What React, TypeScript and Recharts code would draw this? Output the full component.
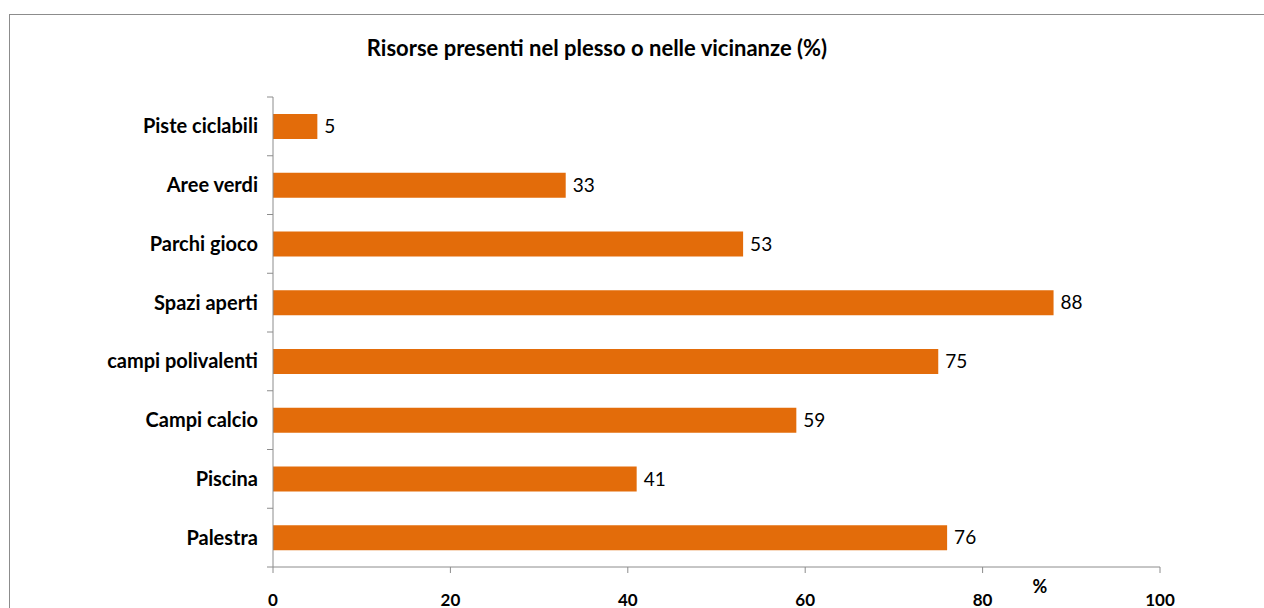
import { Bar, BarChart, XAxis, YAxis, LabelList } from "recharts"

const categories = [
  "Piste ciclabili",
  "Aree verdi",
  "Parchi gioco",
  "Spazi aperti",
  "campi polivalenti",
  "Campi calcio",
  "Piscina",
  "Palestra",
]
const values = [5, 33, 53, 88, 75, 59, 41, 76]
const xTicks = [0, 20, 40, 60, 80, 100]

const data = categories.map((name, i) => ({ name, value: values[i] }))

const FONT = "Lato, 'Open Sans', sans-serif"
const AXIS = "#8c8c8c"
const CHART_H = 598
const MARGIN_TOP = 82
const XAXIS_H = 46
const band = (CHART_H - MARGIN_TOP - XAXIS_H) / categories.length

function CategoryTick(props: any) {
  const { x, y, payload, index } = props
  const last = index === categories.length - 1
  return (
    <g>
      <line x1={x - 6} x2={x} y1={y - band / 2} y2={y - band / 2} stroke={AXIS} />
      {last && <line x1={x - 6} x2={x} y1={y + band / 2} y2={y + band / 2} stroke={AXIS} />}
      <text
        x={x - 15}
        y={y}
        dy="0.35em"
        textAnchor="end"
        fill="#000"
        fontSize={20}
        fontWeight="bold"
        fontFamily={FONT}
      >
        {payload.value}
      </text>
    </g>
  )
}

export default function App() {
  return (
    <div
      style={{
        position: "absolute",
        left: 9,
        top: 14,
        width: 1260,
        height: 600,
        border: `1px solid ${AXIS}`,
        boxSizing: "border-box",
        background: "#fff",
        fontFamily: FONT,
      }}
    >
      <div
        style={{
          position: "absolute",
          left: 287,
          top: 20,
          width: 600,
          textAlign: "center",
          fontSize: 22,
          lineHeight: "26px",
          fontWeight: "bold",
        }}
      >
        Risorse presenti nel plesso o nelle vicinanze (%)
      </div>
      <div
        style={{
          position: "absolute",
          left: 1020,
          top: 560,
          width: 20,
          textAlign: "center",
          fontSize: 18,
          lineHeight: "22px",
          fontWeight: "bold",
        }}
      >
        %
      </div>
      <BarChart
        width={1258}
        height={CHART_H}
        data={data}
        layout="vertical"
        margin={{ top: MARGIN_TOP, right: 108, bottom: 0, left: 0 }}
      >
        <XAxis
          type="number"
          domain={[0, 100]}
          ticks={xTicks}
          interval={0}
          height={XAXIS_H}
          stroke={AXIS}
          tickSize={6}
          tickMargin={21}
          tick={{ fill: "#000", fontSize: 17, fontWeight: "bold", fontFamily: FONT }}
        />
        <YAxis
          type="category"
          dataKey="name"
          width={263}
          stroke={AXIS}
          tickSize={0}
          tickMargin={0}
          tickLine={false}
          interval={0}
          tick={<CategoryTick />}
        />
        <Bar dataKey="value" fill="#E36C0A" barSize={25} isAnimationActive={false}>
          <LabelList
            dataKey="value"
            position="right"
            offset={7}
            fill="#000"
            fontSize={19}
            fontFamily={FONT}
          />
        </Bar>
      </BarChart>
    </div>
  )
}
